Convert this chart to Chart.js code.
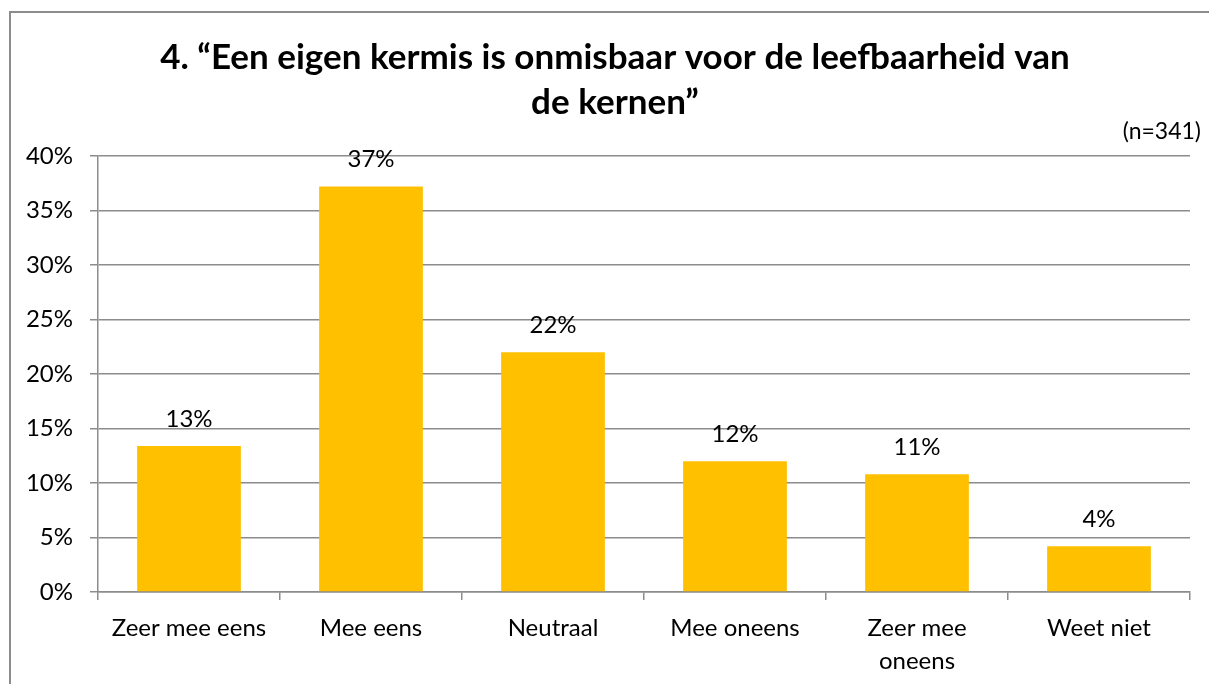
<!DOCTYPE html>
<html>
<head>
<meta charset="utf-8">
<script src="https://cdn.jsdelivr.net/npm/chart.js@4"></script>
<style>
html,body{margin:0;padding:0;background:#fff;overflow:hidden;}
#frame{position:absolute;left:9px;top:11px;width:1230px;height:720px;border:2px solid #8c8c8c;box-sizing:border-box;}
#wrap{position:absolute;left:0;top:0;width:1209px;height:684px;}
</style>
</head>
<body>
<div id="frame"></div>
<div id="wrap"><canvas id="c" width="1209" height="684"></canvas></div>
<script>
const categories = ['Zeer mee eens', 'Mee eens', 'Neutraal', 'Mee oneens', ['Zeer mee', 'oneens'], 'Weet niet'];
const values = [13.4, 37.2, 22.0, 12.0, 10.8, 4.2];
const yTicks = [0, 5, 10, 15, 20, 25, 30, 35, 40];
const titleLines = ['4. \u201cEen eigen kermis is onmisbaar voor de leefbaarheid van', 'de kernen\u201d'];
const subtitleText = '(n=341)';

const FONT = 'Lato';
const GRID = '#8c8c8c';

const labelPlugin = {
  id: 'valueLabels',
  afterDatasetsDraw(chart) {
    const ctx = chart.ctx;
    const meta = chart.getDatasetMeta(0);
    ctx.save();
    ctx.font = '24px ' + FONT;
    ctx.fillStyle = '#000';
    ctx.textAlign = 'center';
    ctx.textBaseline = 'middle';
    meta.data.forEach((bar, i) => {
      ctx.fillText(Math.round(values[i]) + '%', bar.x, bar.y - 27);
    });
    // title, centred on the frame
    ctx.font = 'bold 35px ' + FONT;
    titleLines.forEach((line, i) => ctx.fillText(line, 615, 58 + i * 45));
    // sample size note, top right
    ctx.textAlign = 'right';
    ctx.font = '23px ' + FONT;
    ctx.fillText(subtitleText, 1201, 132);
    ctx.restore();
  }
};

new Chart(document.getElementById('c'), {
  type: 'bar',
  data: {
    labels: categories,
    datasets: [{
      data: values,
      backgroundColor: '#FFC000',
      borderWidth: 0,
      barPercentage: 0.57,
      categoryPercentage: 1
    }]
  },
  options: {
    responsive: false,
    animation: false,
    layout: { padding: { left: 0, right: 19, top: 0, bottom: 0 } },
    plugins: {
      legend: { display: false },
      tooltip: { enabled: false },
      title: {
        display: true,
        text: titleLines,
        color: 'rgba(0,0,0,0)',
        font: { family: FONT, size: 35, weight: 'bold', lineHeight: '45px' },
        padding: { top: 35, bottom: 31 }
      },
      subtitle: { display: false }
    },
    scales: {
      x: {
        offset: true,
        grid: { display: true, drawOnChartArea: false, offset: true, color: GRID, lineWidth: 1.5, tickLength: 8 },
        border: { display: true, color: GRID, width: 1.5 },
        ticks: { color: '#000', font: { family: FONT, size: 24, lineHeight: 1.4 }, padding: 11, maxRotation: 0, autoSkip: false },
        afterFit(scale) { scale.height = 92; }
      },
      y: {
        min: 0, max: 40,
        afterBuildTicks(scale) { scale.ticks = yTicks.map(v => ({ value: v })); },
        grid: { color: GRID, lineWidth: 1.5, tickLength: 8 },
        border: { display: true, color: GRID, width: 1.5 },
        ticks: { color: '#000', font: { family: FONT, size: 24 }, padding: 17, callback: v => v + '%' },
        afterFit(scale) { scale.width = 98; }
      }
    }
  },
  plugins: [labelPlugin]
});
</script>
</body>
</html>
